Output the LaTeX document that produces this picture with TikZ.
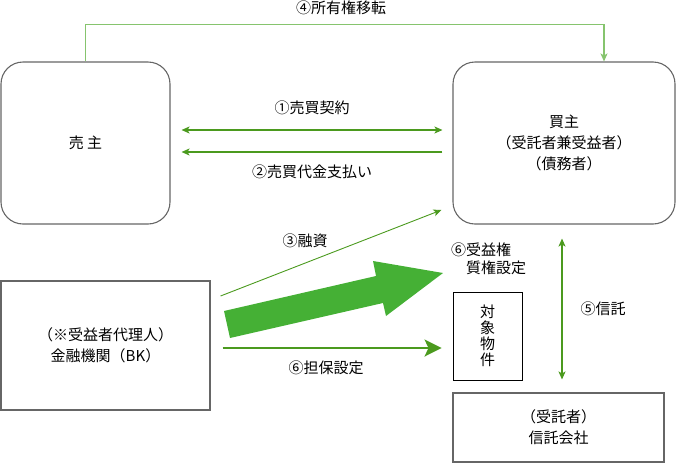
\documentclass[tikz,border=0pt]{standalone}
\usepackage{fontspec}
\setmainfont{Noto Sans CJK JP}
\usetikzlibrary{arrows.meta,positioning,calc}
\definecolor{Line}{HTML}{666666}
\definecolor{Arrow}{HTML}{4B9A1E}
\definecolor{Light}{HTML}{86C46E}
\definecolor{Fat}{HTML}{45B035}

\begin{document}
\begin{tikzpicture}[x=1pt,y=-1pt,
    box/.style={draw=Line,line width=1.1pt,align=center,inner sep=0pt,font=\fontsize{15}{21}\selectfont},
    rbox/.style={box,rounded corners=22pt},
    lbl/.style={font=\fontsize{15}{21}\selectfont,inner sep=0pt},
    a/.style={-{Stealth[length=8pt,width=7pt,inset=2pt]},line width=1.1pt,draw=Arrow},
    ab/.style={a,{Stealth[length=8pt,width=7pt,inset=2pt]}-{Stealth[length=8pt,width=7pt,inset=2pt]}}]
    \useasboundingbox (0,0) rectangle (682,469);
    \node[rbox,minimum width=169pt,minimum height=162pt] (seller) at (85.5,143) {売 主};
    \node[rbox,minimum width=222pt,minimum height=162pt] (buyer) at (564,143) {買主\\（受託者兼受益者）\\（債務者）};
    \node[box,minimum width=209pt,minimum height=129pt] (bank) at (105.5,345.5) {（※受益者代理人）\\金融機関（BK）};
    \node[box,draw=black,line width=0.9pt,minimum width=69pt,minimum height=88pt,font=\fontsize{15}{16}\selectfont] (prop) at (487.5,336) {対\\象\\物\\件};
    \node[box,minimum width=211pt,minimum height=69pt] (trust) at (558.5,427.5) {（受託者）\\信託会社};
    % arrows
    \draw[a,draw=Light,line width=1.4pt] (seller.north) -- ++(0,-37) -| ([xshift=40pt]buyer.north);
    \draw[ab,shorten <=11pt,shorten >=10pt] ([yshift=13pt]seller.east) -- ([yshift=13pt]buyer.west);
    \draw[a,shorten <=10pt,shorten >=11pt] ([yshift=-9pt]buyer.west) -- ([yshift=-9pt]seller.east);
    \draw[a,line width=0.9pt] ([xshift=10pt,yshift=49.5pt]bank.east) -- ([xshift=-11pt,yshift=-67pt]buyer.west);
    \fill[Fat] (224,311) -- (376,276) -- (373,261) -- (443,273) -- (386,316) -- (383,303) -- (230,338) -- cycle;
    \draw[a,line width=2.5pt,-{Stealth[length=17pt,width=17pt,inset=4pt]}] ([xshift=12pt,yshift=-2.5pt]bank.east) -- ([xshift=-11pt,yshift=-2.5pt]bank.east -| prop.west);
    \draw[ab,shorten <=14pt,shorten >=13pt] ([xshift=-2pt]buyer.south) -- ([xshift=-2pt]buyer.south |- trust.north);
    % labels
    \node[lbl] (l4) at (341,8) {④所有権移転};
    \node[lbl] (l1) at (312,108) {①売買契約};
    \node[lbl] (l2) at (312,172) {②売買代金支払い};
    \node[lbl] (l3) at (305,241) {③融資};
    \node[lbl,anchor=west] (l6a) at (451,250) {⑥受益権};
    \node[lbl,anchor=west] (l6b) at (466,268) {質権設定};
    \node[lbl] (l6c) at (326,368) {⑥担保設定};
    \node[lbl] (l5) at (603,309) {⑤信託};
\end{tikzpicture}
\end{document}
